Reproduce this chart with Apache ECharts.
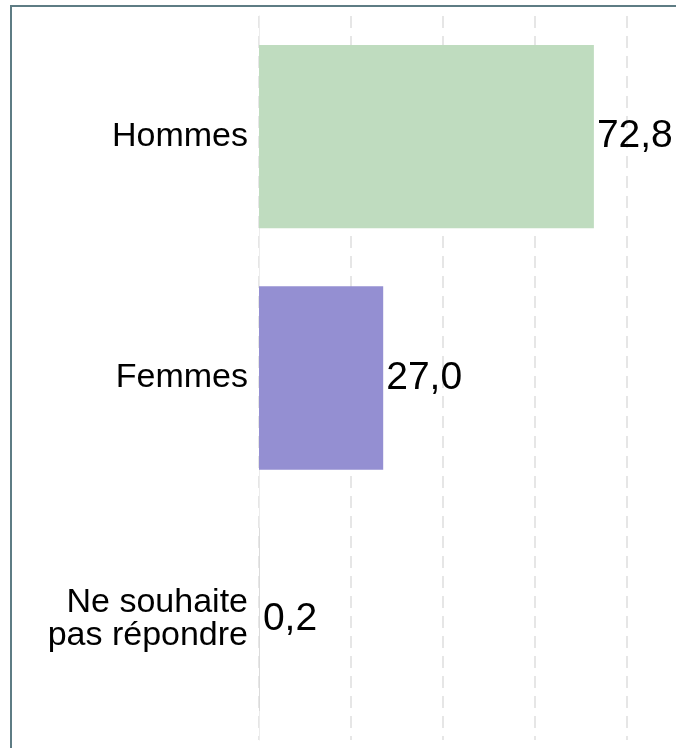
<!DOCTYPE html>
<html lang="fr">
<head>
    <meta charset="UTF-8">
    <title>Sexe</title>
    <script src="https://cdn.jsdelivr.net/npm/echarts@6/dist/echarts.min.js"></script>
    <style>
        html, body { margin: 0; padding: 0; background: #fff; overflow: hidden; }
    </style>
</head>
<body>
<!-- le graphique déborde à droite, comme sur l'original -->
<div id="main" style="width:719px;height:748px;"></div>
<script type="text/javascript">
    // données
    var categories = ['Hommes', 'Femmes', 'Ne souhaite\npas répondre'];
    var values = [72.8, 27.0, 0.2];
    var colors = ['#bfdcbf', '#948fd2', '#d9d9d9'];
    var xTicks = [0, 20, 40, 60, 80, 100];

    var myChart = echarts.init(document.getElementById('main'));

    var barData = values.map(function (v, i) {
        return { value: v, itemStyle: { color: colors[i] } };
    });

    var option = {
        backgroundColor: '#ffffff',
        animation: false,
        textStyle: { fontFamily: 'Liberation Sans, Arial, sans-serif' },
        grid: { left: 259, right: 0, top: 16, bottom: 8, containLabel: false },
        xAxis: {
            type: 'value',
            min: xTicks[0],
            max: xTicks[xTicks.length - 1],
            interval: 20,
            axisLabel: { show: false },
            axisLine: { show: false },
            axisTick: { show: false },
            splitLine: {
                show: true,
                lineStyle: { color: '#e6e6e6', width: 2, type: [12, 8] }
            }
        },
        yAxis: {
            type: 'category',
            inverse: true,
            data: categories,
            axisLine: { show: true, lineStyle: { color: '#ececec', width: 1 } },
            axisTick: { show: false },
            axisLabel: {
                color: '#000',
                fontSize: 34,
                lineHeight: 33,
                margin: 11,
                align: 'right',
                fontFamily: 'Liberation Sans, Arial, sans-serif'
            }
        },
        series: [
            {
                type: 'bar',
                data: barData,
                barWidth: '76%',
                label: {
                    show: true,
                    position: 'right',
                    distance: 3,
                    color: '#000',
                    fontSize: 39,
                    fontFamily: 'Liberation Sans, Arial, sans-serif',
                    formatter: function (p) {
                        return p.value.toFixed(1).replace('.', ',');
                    }
                }
            }
        ],
        graphic: [
            {
                type: 'polyline',
                shape: { points: [[11, 760], [11, 6], [730, 6]] },
                style: { stroke: '#5e7c84', lineWidth: 2, fill: null }
            }
        ]
    };

    myChart.setOption(option);
</script>
</body>
</html>
